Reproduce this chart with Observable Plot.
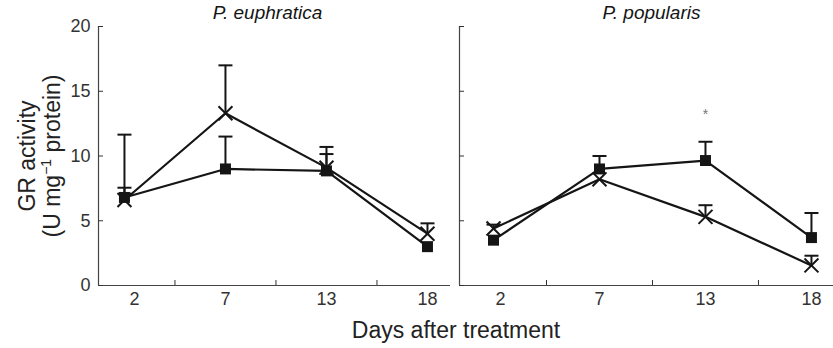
<!DOCTYPE html>
<html><head><meta charset="utf-8">
<script src="https://cdn.jsdelivr.net/npm/d3@7"></script>
<script src="https://cdn.jsdelivr.net/npm/@observablehq/plot@0.6"></script>
<style>
body{margin:0;background:#fff;}
#wrap{position:relative;width:833px;height:348px;overflow:hidden;font-family:"Liberation Sans",Arial,sans-serif;background:#fff;}
#wrap > div, #wrap > svg{position:absolute;top:0;}
</style></head><body><div id="wrap"></div>
<script>
// ---- data ----
const days = ["2", "7", "13", "18"];
const yTicks = [0, 5, 10, 15, 20];
const panelTitles = ["P. euphratica", "P. popularis"];

// P. euphratica
const euphSquare    = [6.8, 9.0, 8.85, 3.0];
const euphSquareTop = [7.55, 11.5, 10.15, null];
const euphCross     = [6.6, 13.3, 9.1, 4.0];
const euphCrossTop  = [11.65, 17.0, 10.7, 4.8];

// P. popularis
const popSquare    = [3.5, 9.0, 9.65, 3.7];
const popSquareTop = [null, 10.0, 11.1, 5.6];
const popCross     = [4.4, 8.2, 5.3, 1.55];
const popCrossTop  = [4.7, null, 6.2, 2.3];
const popStars     = [{day: "13", value: 13.2}];

// ---- helpers ----
const rows = (vals, tops) => vals.map((v, i) => ({i, v, top: tops[i]}));
const capSymbol = {draw(ctx) { ctx.moveTo(-7, 0); ctx.lineTo(7, 0); }};
const ink = "#151515";

function panel({title, sq, sqTop, cr, crTop, stars, width, marginLeft, marginRight, xDomain, showY, titleDx, firstDx}) {
  const sqRows = rows(sq, sqTop), crRows = rows(cr, crTop);
  const errs = [...sqRows, ...crRows].filter(d => d.top != null);
  return Plot.plot({
    width, height: 348,
    marginLeft, marginRight, marginTop: 26, marginBottom: 63,
    style: {fontFamily: "Liberation Sans, Arial, sans-serif", fontSize: "18px", color: "#333", background: "white", overflow: "visible"},
    x: {domain: xDomain},
    y: {domain: [0, 20]},
    marks: [
      Plot.ruleX([xDomain[0]], {stroke: "#444", strokeWidth: 1.2}),
      Plot.ruleY([0], {stroke: "#444", strokeWidth: 1.2}),
      Plot.axisY({ticks: yTicks, tickSize: -5, tickPadding: 13, label: null,
                  tickFormat: showY ? (d => String(d)) : (() => "")}),
      Plot.axisX({ticks: [0.5, 1.5, 2.5], tickSize: -5, tickFormat: () => "", label: null}),
      Plot.axisX({ticks: [0], tickSize: 0, tickPadding: 7, dx: firstDx, tickFormat: i => days[i], label: null}),
      Plot.axisX({ticks: [1, 2, 3], tickSize: 0, tickPadding: 7, tickFormat: i => days[i], label: null}),
      Plot.ruleX(errs, {x: "i", y1: "v", y2: "top", stroke: ink, strokeWidth: 2}),
      Plot.dot(errs, {x: "i", y: "top", symbol: capSymbol, fill: "none", stroke: ink, strokeWidth: 2}),
      Plot.line(sqRows, {x: "i", y: "v", stroke: ink, strokeWidth: 2.2}),
      Plot.line(crRows, {x: "i", y: "v", stroke: ink, strokeWidth: 2.2}),
      Plot.dot(sqRows, {x: "i", y: "v", symbol: "square", r: 6.2, fill: ink}),
      Plot.dot(crRows, {x: "i", y: "v", symbol: "times", r: 6.4, stroke: ink, strokeWidth: 2}),
      Plot.text(stars, {x: d => days.indexOf(d.day), y: "value", text: () => "*", fontSize: 14, fill: "#777"}),
      Plot.text([title], {frameAnchor: "top", dy: -8, dx: titleDx, lineAnchor: "bottom", fontStyle: "italic", fontSize: 19, fill: ink})
    ]
  });
}

const wrap = document.getElementById("wrap");

const left = panel({title: panelTitles[0], sq: euphSquare, sqTop: euphSquareTop, cr: euphCross, crTop: euphCrossTop,
  stars: [], width: 455, marginLeft: 98, marginRight: 5, xDomain: [-0.257, 3.228], showY: true, titleDx: -7, firstDx: 10});
const right = panel({title: panelTitles[1], sq: popSquare, sqTop: popSquareTop, cr: popCross, crTop: popCrossTop,
  stars: popStars, width: 378, marginLeft: 4, marginRight: 0, xDomain: [-0.321, 3.208], showY: false, titleDx: 5, firstDx: 7});

const d1 = document.createElement("div"); d1.style.left = "0px"; d1.appendChild(left); wrap.appendChild(d1);
const d2 = document.createElement("div"); d2.style.left = "455px"; d2.appendChild(right); wrap.appendChild(d2);

// overlay with axis titles
const svg = d3.select(wrap).append("svg").attr("width", 833).attr("height", 348)
  .style("left", "0px").style("pointer-events", "none")
  .style("font-family", "Liberation Sans, Arial, sans-serif").style("font-size", "23px").attr("fill", "#222");

svg.append("text").attr("transform", "translate(35,156) rotate(-90)").attr("text-anchor", "middle").text("GR activity");
const l2 = svg.append("text").attr("transform", "translate(60,156) rotate(-90)").attr("text-anchor", "middle");
l2.append("tspan").text("(U mg");
l2.append("tspan").attr("font-size", "14px").attr("dy", "-9").text("\u22121");
l2.append("tspan").attr("dy", "9").text(" protein)");

svg.append("text").attr("x", 456).attr("y", 338).attr("text-anchor", "middle").text("Days after treatment");
</script></body></html>
